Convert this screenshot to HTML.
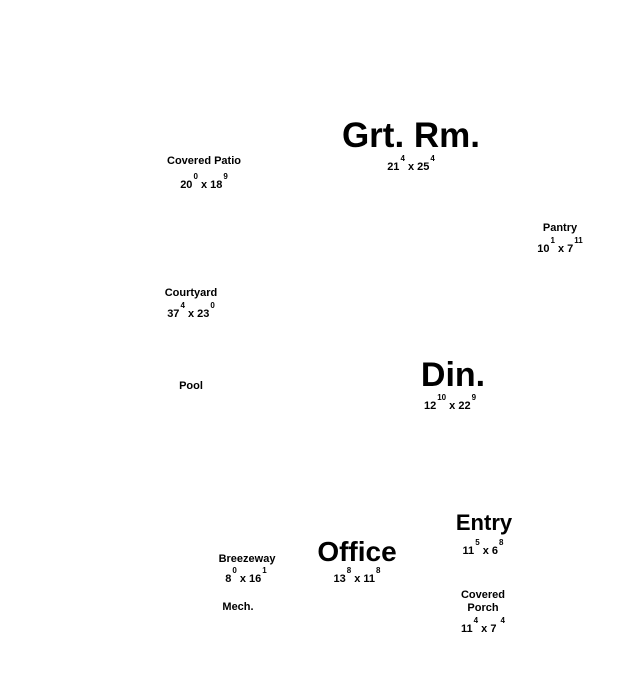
<!DOCTYPE html>
<html><head><meta charset="utf-8"><style>
html,body{margin:0;padding:0;background:#fff;width:634px;height:673px;overflow:hidden}
.t{position:absolute;width:200px;text-align:center;font-family:"Liberation Sans",sans-serif;font-weight:bold;color:#000;white-space:nowrap}
.s{font-size:11px;line-height:13px}
.d{font-size:11px;line-height:13px}
.d i{font-style:normal;font-size:8px;position:relative;top:-9px;margin-left:1px}
</style></head><body>
<div class="t" style="left:311px;top:115px;font-size:35px;line-height:41px">Grt. Rm.</div>
<div class="t d" style="left:311px;top:161px">21<i>4</i> x 25<i>4</i></div>

<div class="t s" style="left:104px;top:155px">Covered Patio</div>
<div class="t d" style="left:104px;top:179px">20<i>0</i> x 18<i>9</i></div>

<div class="t s" style="left:460px;top:222px">Pantry</div>
<div class="t d" style="left:460px;top:243px">10<i>1</i> x 7<i>11</i></div>

<div class="t s" style="left:91px;top:287px">Courtyard</div>
<div class="t d" style="left:91px;top:308px">37<i>4</i> x 23<i>0</i></div>

<div class="t s" style="left:91px;top:380px">Pool</div>

<div class="t" style="left:353px;top:355px;font-size:34px;line-height:40px">Din.</div>
<div class="t d" style="left:350px;top:400px">12<i>10</i> x 22<i>9</i></div>

<div class="t" style="left:384px;top:510px;font-size:22px;line-height:26px">Entry</div>
<div class="t d" style="left:383px;top:545px">11<i>5</i> x 6<i>8</i></div>

<div class="t" style="left:257px;top:535px;font-size:28px;line-height:33px">Office</div>
<div class="t d" style="left:257px;top:573px">13<i>8</i> x 11<i>8</i></div>

<div class="t s" style="left:147px;top:553px">Breezeway</div>
<div class="t d" style="left:146px;top:573px">8<i>0</i> x 16<i>1</i></div>

<div class="t s" style="left:138px;top:601px">Mech.</div>

<div class="t s" style="left:383px;top:589px">Covered</div>
<div class="t s" style="left:383px;top:602px">Porch</div>
<div class="t d" style="left:383px;top:623px">11<i>4</i> x 7 <i>4</i></div>
</body></html>
